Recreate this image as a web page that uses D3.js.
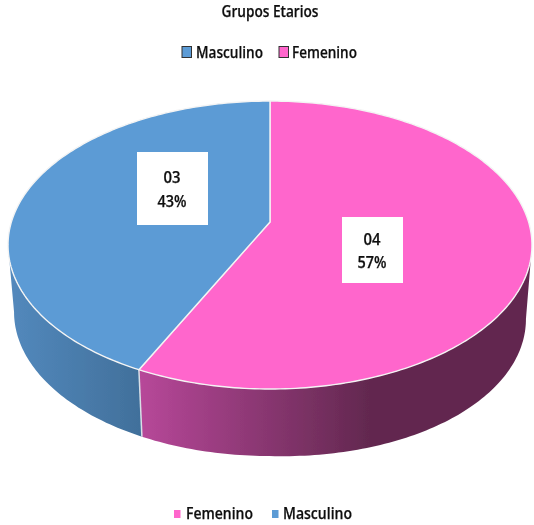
<!DOCTYPE html>
<meta charset="utf-8">
<style>
    html, body { margin: 0; background: #fff; }
    svg { display: block; }
    text { font-family: "Open Sans", "Noto Sans", sans-serif; font-weight: 600; fill: #111; stroke: #111; stroke-width: 0.25; }
</style>
<body>
<svg id="chart" width="534" height="525"></svg>
</body>
<script src="https://d3js.org/d3.v7.min.js"></script>
<script>
// datos
var categories = ["Femenino", "Masculino"];
var values = [4, 3];
var labels = ["04", "03"];
var percents = ["57%", "43%"];
var topLegend = ["Masculino", "Femenino"];
var bottomLegend = ["Femenino", "Masculino"];

var color = d3.scaleOrdinal().domain(categories).range(["#ff66cc", "#5b9bd5"]);

var svg = d3.select("#chart");
var cx = 270, cy = 222;
var persp = 0.16, a = 258.6, b = 140.3;
var depth = 67, shrink = 0.977;

// proyeccion del disco (vista inclinada con perspectiva)
function topPoint(t) {
    var u = Math.sin(t), v = -Math.cos(t);
    var w = 1 - persp * v;
    return [cx + a * u / w, cy + b * v / w];
}
function bottomPoint(t) {
    var p = topPoint(t);
    // el lado derecho cae un poco mas que el izquierdo
    var extra = Math.max(0, p[0] - cx) / 262 * 7;
    return [cx + (p[0] - cx) * shrink, p[1] + depth + extra];
}
function sample(t0, t1) {
    var n = Math.max(2, Math.ceil(Math.abs(t1 - t0) * 60));
    return d3.range(n + 1).map(function(i) { return t0 + (t1 - t0) * i / n; });
}

var line = d3.line();
var pie = d3.pie().sort(null).value(function(d) { return d; });
var arcs = pie(values);

var defs = svg.append("defs");
var gradPink = defs.append("linearGradient").attr("id", "wallPink")
    .attr("gradientUnits", "userSpaceOnUse")
    .attr("x1", 137).attr("x2", 370).attr("y1", 0).attr("y2", 0);
gradPink.append("stop").attr("offset", 0).attr("stop-color", "#b8489a");
gradPink.append("stop").attr("offset", 1).attr("stop-color", "#62284f");
var gradBlue = defs.append("linearGradient").attr("id", "wallBlue")
    .attr("gradientUnits", "userSpaceOnUse")
    .attr("x1", 8).attr("x2", 140).attr("y1", 0).attr("y2", 0);
gradBlue.append("stop").attr("offset", 0).attr("stop-color", "#5389bd");
gradBlue.append("stop").attr("offset", 1).attr("stop-color", "#41709b");
var soft = defs.append("filter").attr("id", "soft");
soft.append("feGaussianBlur").attr("stdDeviation", 0.45);

var g = svg.append("g").attr("filter", "url(#soft)");

// pared lateral: desde el punto mas ancho del disco a cada lado
var wallFill = ["url(#wallPink)", "url(#wallBlue)"];
var edgeRight = Math.acos(-persp), edgeLeft = 2 * Math.PI - edgeRight;
arcs.forEach(function(d, i) {
    var t0 = Math.max(d.startAngle, edgeRight);
    var t1 = Math.min(d.endAngle, edgeLeft);
    var ts = sample(t0, t1);
    var pts = ts.map(topPoint).concat(ts.slice().reverse().map(bottomPoint));
    g.append("path")
        .attr("d", line(pts) + "Z")
        .attr("fill", wallFill[i]);
});

// union entre las dos paredes
var seam = arcs[0].endAngle;
g.append("path")
    .attr("d", line([topPoint(seam), bottomPoint(seam)]))
    .attr("stroke", "#d8dfe6").attr("stroke-width", 1.5).attr("fill", "none");

// tapa
arcs.forEach(function(d, i) {
    var pts = [[cx, cy]].concat(sample(d.startAngle, d.endAngle).map(topPoint));
    g.append("path")
        .attr("d", line(pts) + "Z")
        .attr("fill", color(categories[i]))
        .attr("stroke", "#f4f4f4").attr("stroke-width", 1.4)
        .attr("stroke-linejoin", "round");
});

// texto angosto, parecido a Calibri
function addText(x, y, size, width, anchor, str) {
    g.append("text").attr("x", x).attr("y", y)
        .attr("font-size", size)
        .attr("text-anchor", anchor)
        .attr("textLength", width)
        .attr("lengthAdjust", "spacingAndGlyphs")
        .text(str);
}

// etiquetas
var boxX = [342, 137], boxY = [217, 152], boxW = [61, 71], boxH = [66, 73];
var textX = [372, 172], valueY = [245, 183], pctY = [268, 207];
arcs.forEach(function(d, i) {
    g.append("rect").attr("x", boxX[i]).attr("y", boxY[i])
        .attr("width", boxW[i]).attr("height", boxH[i]).attr("fill", "#fff");
    addText(textX[i], valueY[i], 16.5, 17, "middle", labels[i]);
    addText(textX[i], pctY[i], 16.5, 29, "middle", percents[i]);
});

// titulo
addText(270, 17, 16, 97, "middle", "Grupos Etarios");

// leyenda de arriba
var topX = [182, 279], topTextX = [196, 292], topW = [67, 65];
topLegend.forEach(function(name, i) {
    g.append("rect").attr("x", topX[i]).attr("y", 46.5).attr("width", 9.5).attr("height", 11)
        .attr("fill", color(name)).attr("stroke", "#333").attr("stroke-width", 1);
    addText(topTextX[i], 58, 17, topW[i], "start", name);
});

// leyenda de abajo
var bottomX = [174, 272], bottomTextX = [186, 283], bottomW = [67, 69];
bottomLegend.forEach(function(name, i) {
    g.append("rect").attr("x", bottomX[i]).attr("y", 510).attr("width", 6.5).attr("height", 8)
        .attr("fill", color(name));
    addText(bottomTextX[i], 519, 17, bottomW[i], "start", name);
});
</script>
